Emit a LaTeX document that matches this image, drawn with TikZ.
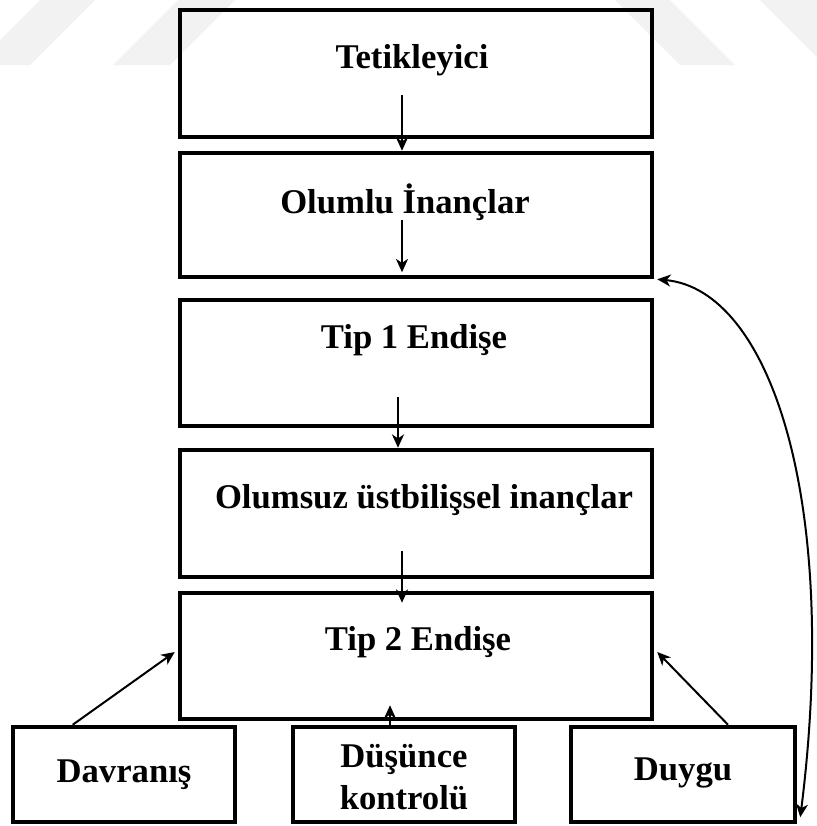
\documentclass[tikz,border=0pt]{standalone}
\usepackage{fontspec}
\setmainfont{Liberation Serif}
\usepackage{tikz}
\usetikzlibrary{positioning,arrows.meta,calc}

\tikzset{
  kutu/.style={draw, line width=3.4pt, rectangle, inner sep=0pt},
  yazi/.style={font=\fontsize{26}{31}\selectfont\bfseries, align=center, inner sep=0pt},
  ok/.style={line width=1.5pt, -{Stealth[length=10pt,width=9pt,inset=3pt]}},
  ciftok/.style={line width=1.5pt, {Stealth[length=10pt,width=9pt,inset=3pt]}-{Stealth[length=10pt,width=9pt,inset=3pt]}},
  filigran/.style={fill=black!5, draw=none}
}

\begin{document}
\begin{tikzpicture}[x=0.75pt, y=-0.75pt]
        \useasboundingbox (0,0) rectangle (817,826);

        % Filigran
        \fill[filigran] (-25,65) -- (40,0) -- (95,0) -- (30,65) -- cycle;
        \fill[filigran] (113,65) -- (178,0) -- (235,0) -- (170,65) -- cycle;
        \fill[filigran] (615,0) -- (670,0) -- (735,65) -- (680,65) -- cycle;
        \fill[filigran] (760,0) -- (817,0) -- (817,57) -- (825,65) -- cycle;

        % Kutular
        \node[kutu, minimum width=472*0.75pt, minimum height=127*0.75pt] (tetik) at (416,73.5) {};
        \node[kutu, minimum width=472*0.75pt, minimum height=124*0.75pt] (olumlu) at (416,215) {};
        \node[kutu, minimum width=472*0.75pt, minimum height=126*0.75pt] (tip1) at (416,363) {};
        \node[kutu, minimum width=472*0.75pt, minimum height=127*0.75pt] (olumsuz) at (416,513.5) {};
        \node[kutu, minimum width=472*0.75pt, minimum height=126*0.75pt] (tip2) at (416,656) {};

        \node[kutu, minimum width=222*0.75pt, minimum height=95*0.75pt] (davr) at (124,774.5) {};
        \node[kutu, minimum width=222*0.75pt, minimum height=95*0.75pt] (dusun) at (404,774.5) {};
        \node[kutu, minimum width=224*0.75pt, minimum height=95*0.75pt] (duygu) at (683,774.5) {};

        % Yazilar
        \node[yazi] (tetikT) at (412,60) {Tetikleyici};
        \node[yazi] (olumluT) at (405,202) {Olumlu İnançlar};
        \node[yazi] (tip1T) at (414,340) {Tip 1 Endişe};
        \node[yazi] (olumsuzT) at (424,500) {Olumsuz üstbilişsel inançlar};
        \node[yazi] (tip2T) at (418,642) {Tip 2 Endişe};
        \node[yazi] (davrT) at (124,775) {Davranış};
        \node[yazi] (dusunT) at (404,777) {Düşünce\\kontrolü};
        \node[yazi] (duyguT) at (683,773) {Duygu};

        % Oklar
        \draw[ok] ($(tetik.south)+(-14,-44)$) -- ($(olumlu.north)+(-14,0)$);
        \draw[ok] ($(olumlu.south)+(-14,-59)$) -- ($(olumlu.south)+(-14,-7)$);
        \draw[ok] ($(tip1.south)+(-18,-31)$) -- ($(olumsuz.north)+(-18,0)$);
        \draw[ok] ($(olumsuz.south)+(-14,-28)$) -- ($(tip2.north)+(-14,12)$);

        \draw[ok] ($(davr.north west)+(62,0)$) -- ($(tip2.west)+(-3,-4)$);
        \draw[ok] ($(dusun.north)+(-14,0)$) -- ($(tip2.south)+(-26,-16)$);
        \draw[ok] ($(duygu.north)+(45,0)$) -- ($(tip2.east)+(3,-4)$);

        % Geri besleme
        \draw[ciftok] ($(olumlu.south east)+(3,0)$) .. controls (770,290) and (840,500) .. ($(duygu.south east)+(3,-7)$);
\end{tikzpicture}
\end{document}
